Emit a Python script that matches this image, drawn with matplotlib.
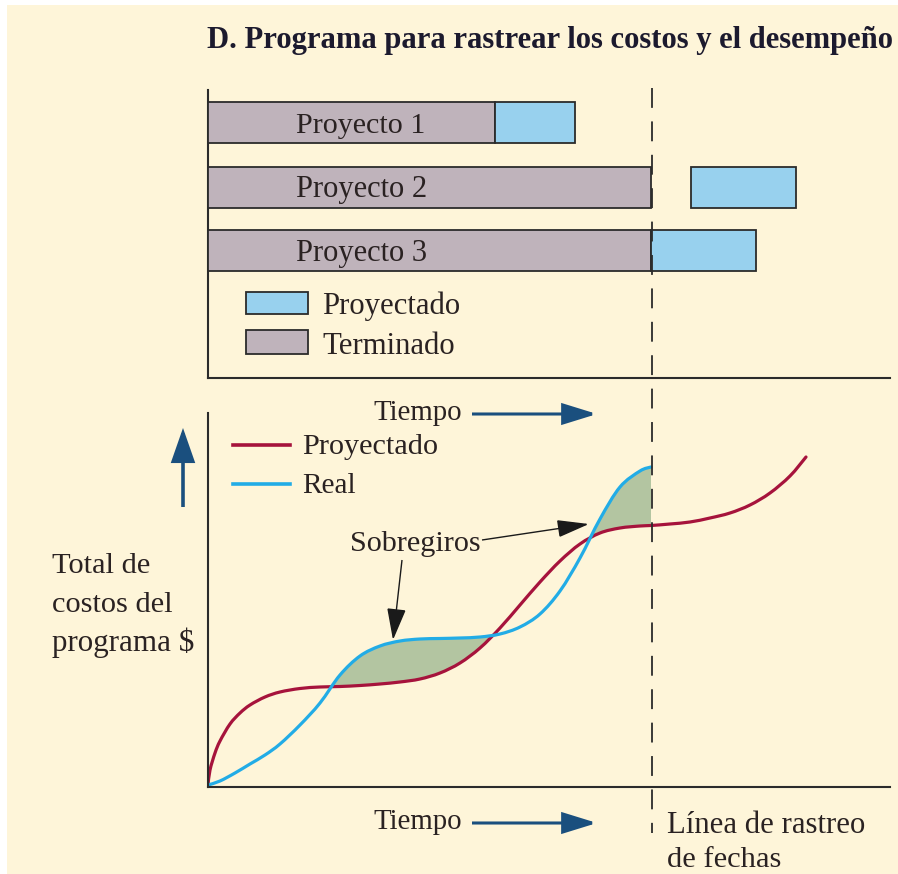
import matplotlib
matplotlib.use("Agg")
import matplotlib.pyplot as plt
from matplotlib.patches import Rectangle, FancyArrowPatch, PathPatch
from matplotlib.lines import Line2D
from matplotlib.path import Path
import numpy as np

# ---------------- data ----------------
projects = ["Proyecto 1", "Proyecto 2", "Proyecto 3"]
done_start = [0, 0, 0]
done_end = [287, 443, 443]
proj_start = [287, 483, 443]
proj_end = [367, 588, 548]

# cumulative cost curves (time units, cost units)
time_real = [0, 12, 27, 42, 57, 72, 92, 112, 132, 152, 172, 192, 212,
             232, 252, 272, 292, 312, 332, 352, 372, 392, 412, 432, 443]
cost_real = [2, 6, 14, 23, 32, 43, 62, 84, 112, 131, 141, 146, 148,
             148.5, 149, 150, 153, 160, 173, 196, 229, 268, 300, 316, 320]
time_plan = [0, 2, 7, 12, 22, 32, 42, 57, 72, 92, 112, 132, 152, 172, 192, 212,
             232, 252, 272, 292, 312, 332, 352, 372, 392, 412, 432, 443,
             462, 482, 502, 522, 542, 562, 582, 598]
cost_plan = [2, 17, 34, 46, 63, 74, 82, 90, 95, 98.5, 100, 100.5, 101.5, 103, 105, 108,
             114, 124, 139, 159, 182, 205, 226, 243, 254, 259, 261, 261.5,
             263, 265, 269, 274, 282, 294, 311, 330]
status_date = 443

# ---------------- style ----------------
W, H = 898, 874
BG = "#FEF5D9"
TXT = "#2a2222"
NAVY = "#1A4F7E"
RED = "#A6133C"
CYAN = "#22ACE6"
GREY = "#BFB3BB"
LBLUE = "#98D1EE"
GREEN = "#B3C5A1"
EDGE = "#2b2b2b"
SERIF = ["Liberation Serif", "DejaVu Serif"]

fig = plt.figure(figsize=(W / 100, H / 100), dpi=100, facecolor="white")
fig.patches.append(Rectangle((7 / W, 0), 1 - 7 / W, 1 - 5 / H, transform=fig.transFigure,
                             facecolor=BG, edgecolor="none", zorder=-10))


def F(x, y):
    return (x / W, 1 - y / H)


renderer = fig.canvas.get_renderer()


def put(x, y, s, width, bold=False, color=TXT):
    t = fig.text(x / W, 1 - y / H, s, ha="left", va="baseline", fontsize=20,
                 family=SERIF, color=color, fontweight="bold" if bold else "normal")
    bb = t.get_window_extent(renderer)
    t.set_fontsize(20 * width / bb.width)
    return t


def smooth_path(x, y, close_to=None):
    """Bezier path passing through the given points (drawn by matplotlib)."""
    pts = np.column_stack([x, y]).astype(float)
    verts = [pts[0]]
    codes = [Path.MOVETO]
    n = len(pts)
    for i in range(n - 1):
        p0 = pts[i - 1] if i > 0 else pts[i]
        p1, p2 = pts[i], pts[i + 1]
        p3 = pts[i + 2] if i + 2 < n else pts[i + 1]
        verts += [p1 + (p2 - p0) / 6, p2 - (p3 - p1) / 6, p2]
        codes += [Path.CURVE4] * 3
    if close_to is not None:
        verts += [(pts[-1, 0], close_to), (pts[0, 0], close_to), pts[0]]
        codes += [Path.LINETO, Path.LINETO, Path.CLOSEPOLY]
    return Path(verts, codes)


# ---------------- top axes (Gantt) ----------------
axT = fig.add_axes([208 / W, 1 - 378 / H, 682 / W, 288 / H])
axT.set_facecolor("none")
axT.set_xlim(0, 682)
axT.set_ylim(0, 288)
for s in ["top", "right"]:
    axT.spines[s].set_visible(False)
for s in ["left", "bottom"]:
    axT.spines[s].set_linewidth(1.5)
    axT.spines[s].set_color(EDGE)
axT.set_xticks([])
axT.set_yticks([])

ypos = [255.5, 190.5, 127.5]
bar_h = 41
axT.barh(ypos, np.array(done_end) - np.array(done_start), left=done_start, height=bar_h,
         color=GREY, edgecolor=EDGE, linewidth=1.3, zorder=3)
axT.barh(ypos, np.array(proj_end) - np.array(proj_start), left=proj_start, height=bar_h,
         color=LBLUE, edgecolor=EDGE, linewidth=1.3, zorder=3)

# manual legend patches
axT.add_patch(Rectangle((38, 378 - 314), 62, 22.5, facecolor=LBLUE, edgecolor=EDGE, lw=1.3, zorder=3))
axT.add_patch(Rectangle((38, 378 - 354), 62, 24, facecolor=GREY, edgecolor=EDGE, lw=1.3, zorder=3))

# ---------------- bottom axes (cost curves) ----------------
axB = fig.add_axes([208 / W, 1 - 787 / H, 682 / W, 374 / H])
axB.set_facecolor("none")
axB.set_xlim(0, 682)
axB.set_ylim(0, 374)
for s in ["top", "right"]:
    axB.spines[s].set_visible(False)
for s in ["left", "bottom"]:
    axB.spines[s].set_linewidth(1.5)
    axB.spines[s].set_color(EDGE)
    axB.spines[s].set_zorder(10)
axB.set_xticks([])
axB.set_yticks([])

# overrun shading: area under real curve, then area under planned curve masked with background
axB.add_patch(PathPatch(smooth_path(time_real, cost_real, close_to=0), facecolor=GREEN,
                        edgecolor="none", zorder=1))
axB.add_patch(PathPatch(smooth_path(time_plan, cost_plan, close_to=0), facecolor=BG,
                        edgecolor=BG, lw=0.3, zorder=1.5))
axB.add_patch(PathPatch(smooth_path(time_plan, cost_plan), facecolor="none", edgecolor=RED,
                        lw=2.3, capstyle="round", zorder=3))
axB.add_patch(PathPatch(smooth_path(time_real, cost_real), facecolor="none", edgecolor=CYAN,
                        lw=2.3, capstyle="round", zorder=4))

# legend lines
fig.add_artist(Line2D([233 / W, 290 / W], [1 - 445 / H] * 2, color=RED, lw=2.6))
fig.add_artist(Line2D([233 / W, 290 / W], [1 - 484 / H] * 2, color=CYAN, lw=2.6))

# status date dashed line
fig.add_artist(Line2D([651.5 / W] * 2, [1 - 88 / H, 1 - 833 / H], color=EDGE, lw=1.3,
                      linestyle=(0, (11, 7.5)), zorder=5))


# ---------------- arrows ----------------
def arrow(p0, p1, color, lw, hl, hw):
    a = FancyArrowPatch(F(*p0), F(*p1), transform=fig.transFigure,
                        arrowstyle=f"-|>,head_length={hl},head_width={hw}",
                        mutation_scale=1, color=color, lw=lw, shrinkA=0, shrinkB=0,
                        joinstyle="miter", capstyle="butt")
    fig.patches.append(a)


arrow((472, 414), (597, 414), NAVY, 2.2, 21, 6.5)
arrow((472, 823), (597, 823), NAVY, 2.2, 21, 6.5)
arrow((183, 507), (183, 428), NAVY, 2.6, 20, 7)
arrow((402, 560), (393, 640), "#1a1a1a", 1.0, 20, 6)
arrow((482, 540), (589, 524), "#1a1a1a", 1.0, 20, 5.5)

# ---------------- texts ----------------
put(207, 48, "D. Programa para rastrear los costos y el desempeño", 686, bold=True, color="#1c1a2e")
put(296, 133, projects[0], 129)
put(296, 197, projects[1], 131)
put(296, 261, projects[2], 131)
put(322, 314, "Proyectado", 138)
put(322, 354, "Terminado", 133)
put(373, 420, "Tiempo", 89)
put(302, 454, "Proyectado", 136)
put(302, 493, "Real", 54)
put(350, 551, "Sobregiros", 131)
put(52, 573, "Total de", 98)
put(52, 612, "costos del", 120)
put(52, 651, "programa $", 142)
put(373, 829, "Tiempo", 89)
put(667, 833, "Línea de rastreo", 198)
put(667, 867, "de fechas", 114)

fig.savefig("out.png", dpi=100, facecolor=fig.get_facecolor())
